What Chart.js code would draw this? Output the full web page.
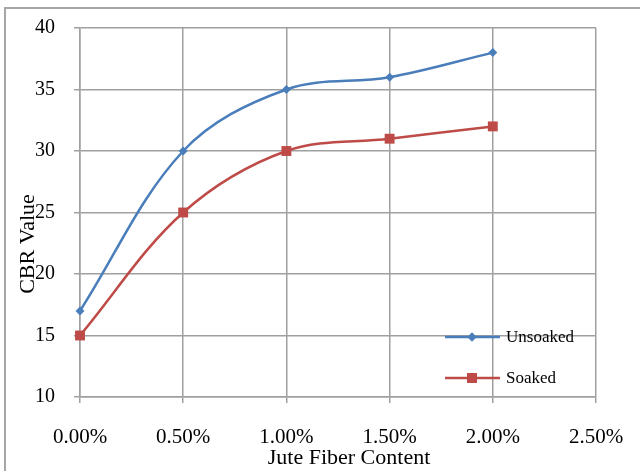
<!DOCTYPE html>
<html>
<head>
<meta charset="utf-8">
<script src="https://cdn.jsdelivr.net/npm/chart.js@4"></script>
<style>
    html, body { margin: 0; padding: 0; background: #fff; overflow: hidden; }
    #wrap { position: relative; width: 640px; height: 471px; }
    #frame { position: absolute; left: 4px; top: 7px; width: 700px; height: 500px; border: 2px solid #a6a6a6; }
    canvas { position: absolute; left: 0; top: 0; }
</style>
</head>
<body>
<div id="wrap">
    <div id="frame"></div>
    <canvas id="cbrChart" width="640" height="471"></canvas>
</div>
<script>
// data
const fiberContent = [0, 0.5, 1.0, 1.5, 2.0];   // % jute fiber
const unsoaked = [17, 30, 35, 36, 38];
const soaked = [15, 25, 30, 31, 32];
const seriesNames = ['Unsoaked', 'Soaked'];
const xTitle = 'Jute Fiber Content';
const yTitle = 'CBR Value';

const FONT = '"Liberation Serif", "Times New Roman", serif';
const gridColor = '#a0a0a0';
const blue = '#4a7ebb';
const red = '#be4b48';

const toPoints = (vals) => vals.map((v, i) => ({ x: fiberContent[i], y: v }));

// axis titles sit off-centre in the original (y one overlaps the tick labels)
const axisTitles = {
    id: 'axisTitles',
    afterDraw(chart) {
        const ctx = chart.ctx;
        ctx.save();
        ctx.fillStyle = '#000';
        ctx.textAlign = 'center';
        ctx.textBaseline = 'middle';
        ctx.font = '22px ' + FONT;
        ctx.fillText(xTitle, 349, 458);
        ctx.translate(28, 244);
        ctx.rotate(-Math.PI / 2);
        ctx.fillText(yTitle, 0, 0);
        ctx.restore();
    }
};

// legend inside the plot, line + marker sample
const innerLegend = {
    id: 'innerLegend',
    afterDraw(chart) {
        const ctx = chart.ctx;
        const area = chart.chartArea;
        const x0 = area.right - 151;
        const rows = [area.bottom - 60, area.bottom - 19];
        chart.data.datasets.forEach((ds, i) => {
            const y = rows[i];
            ctx.save();
            ctx.strokeStyle = ds.borderColor;
            ctx.lineWidth = 2.5;
            ctx.beginPath();
            ctx.moveTo(x0, y);
            ctx.lineTo(x0 + 55, y);
            ctx.stroke();
            ctx.fillStyle = ds.pointBackgroundColor;
            Chart.helpers.drawPoint(ctx, {
                pointStyle: ds.pointStyle,
                radius: ds.pointRadius,
                borderWidth: 0,
                rotation: 0
            }, x0 + 27, y);
            ctx.fill();
            ctx.font = '17px ' + FONT;
            ctx.fillStyle = '#000';
            ctx.textAlign = 'left';
            ctx.textBaseline = 'middle';
            ctx.fillText(ds.label, x0 + 61, y + 1);
            ctx.restore();
        });
    }
};

new Chart(document.getElementById('cbrChart'), {
    type: 'line',
    data: {
        datasets: [{
            label: seriesNames[0],
            data: toPoints(unsoaked),
            borderColor: blue,
            backgroundColor: blue,
            pointBackgroundColor: blue,
            pointBorderColor: blue,
            pointStyle: 'rectRot',
            pointRadius: 4.5,
            pointBorderWidth: 0,
            borderWidth: 2.5,
            tension: 0.35,
            fill: false,
            clip: false
        }, {
            label: seriesNames[1],
            data: toPoints(soaked),
            borderColor: red,
            backgroundColor: red,
            pointBackgroundColor: red,
            pointBorderColor: red,
            pointStyle: 'rect',
            pointRadius: 7,
            pointBorderWidth: 0,
            borderWidth: 2.5,
            tension: 0.35,
            fill: false,
            clip: false
        }]
    },
    options: {
        responsive: false,
        animation: false,
        devicePixelRatio: 1,
        layout: { padding: { top: 28, right: 44, left: 0, bottom: 0 } },
        plugins: {
            legend: { display: false },
            tooltip: { enabled: false }
        },
        scales: {
            x: {
                type: 'linear',
                min: 0,
                max: 2.5,
                afterFit: (s) => { s.height = 74; s.paddingRight = 0; s.paddingLeft = 0; },
                ticks: {
                    stepSize: 0.5,
                    callback: (v) => v.toFixed(2) + '%',
                    font: { family: FONT, size: 21 },
                    color: '#000',
                    padding: 22,
                    maxRotation: 0
                },
                grid: { color: gridColor, lineWidth: 1.5, tickLength: 6 },
                border: { color: gridColor, width: 1.5 }
            },
            y: {
                min: 10,
                max: 40,
                afterFit: (s) => { s.width = 80; s.paddingTop = 0; s.paddingBottom = 0; },
                ticks: {
                    stepSize: 5,
                    font: { family: FONT, size: 20 },
                    color: '#000',
                    padding: 19
                },
                grid: { color: gridColor, lineWidth: 1.5, tickLength: 6 },
                border: { color: gridColor, width: 1.5 }
            }
        }
    },
    plugins: [axisTitles, innerLegend]
});
</script>
</body>
</html>
